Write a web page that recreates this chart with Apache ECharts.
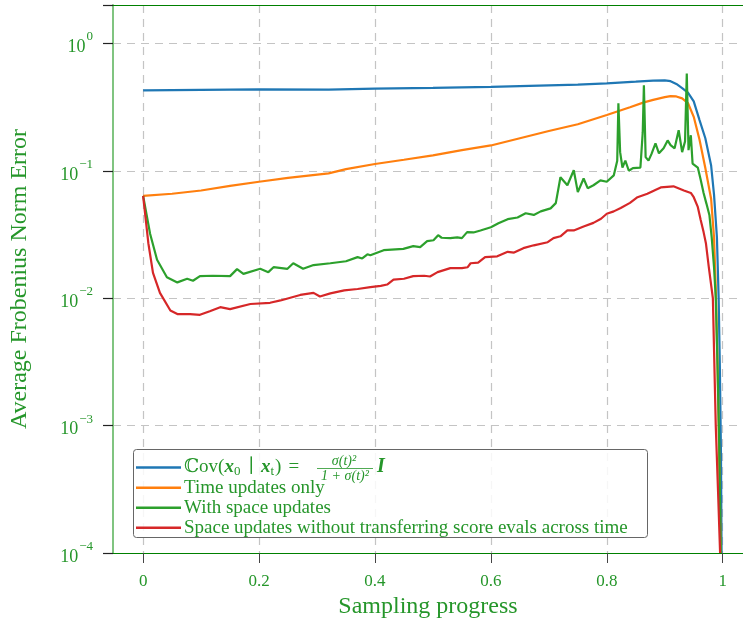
<!DOCTYPE html>
<html>
<head>
<meta charset="utf-8">
<script src="https://cdn.jsdelivr.net/npm/echarts@6/dist/echarts.min.js"></script>
<style>
  html, body { margin: 0; padding: 0; background: #fff; }
  #chart { width: 743px; height: 627px; }
</style>
</head>
<body>
<div id="chart"></div>
<script>
var FONT = "'Liberation Serif', 'DejaVu Serif', serif";
var TXT = '#25962a';

var seriesNames = [
  'cov',
  'Time updates only',
  'With space updates',
  'Space updates without transferring score evals across time'
];
var seriesColors = ['#1f77b4', '#ff7f0e', '#2ca02c', '#d62728'];
var xTicks = [0, 0.2, 0.4, 0.6, 0.8, 1];

// Cov(x0|xt) baseline
var blueX = [0, 0.1, 0.2, 0.32, 0.4, 0.5, 0.6, 0.7, 0.75, 0.8, 0.85, 0.88, 0.9, 0.91, 0.92, 0.93, 0.94, 0.95, 0.96, 0.97, 0.98, 0.985, 0.99, 0.993, 0.995, 0.997, 0.998];
var blueY = [0.428, 0.431, 0.435, 0.433, 0.441, 0.447, 0.455, 0.468, 0.475, 0.485, 0.5, 0.51, 0.513, 0.505, 0.48, 0.445, 0.41, 0.35, 0.25, 0.18, 0.11, 0.065, 0.03, 0.01, 0.003, 0.0006, 0.0001];

// time updates only
var orangeX = [0, 0.05, 0.1, 0.15, 0.2, 0.25, 0.32, 0.35, 0.4, 0.45, 0.5, 0.55, 0.6, 0.65, 0.7, 0.75, 0.8, 0.84, 0.864, 0.88, 0.9, 0.91, 0.92, 0.93, 0.94, 0.95, 0.96, 0.97, 0.98, 0.985, 0.988, 0.991, 0.993, 0.995, 0.9965];
var orangeY = [0.0635, 0.066, 0.07, 0.076, 0.082, 0.088, 0.0955, 0.103, 0.113, 0.122, 0.132, 0.145, 0.158, 0.18, 0.205, 0.232, 0.274, 0.315, 0.344, 0.36, 0.378, 0.385, 0.383, 0.37, 0.34, 0.265, 0.175, 0.105, 0.06, 0.03, 0.012, 0.003, 0.001, 0.0003, 0.0001];

// with space updates
var greenX = [0, 0.012, 0.024, 0.041, 0.059, 0.076, 0.086, 0.098, 0.12, 0.15, 0.162, 0.173, 0.202, 0.216, 0.225, 0.249, 0.259, 0.276, 0.294, 0.323, 0.35, 0.37, 0.378, 0.387, 0.392, 0.415, 0.449, 0.466, 0.478, 0.49, 0.501, 0.509, 0.515, 0.53, 0.542, 0.55, 0.559, 0.57, 0.582, 0.6, 0.613, 0.629, 0.646, 0.66, 0.674, 0.686, 0.703, 0.712, 0.72, 0.732, 0.743, 0.75, 0.76, 0.767, 0.777, 0.789, 0.8, 0.812, 0.818, 0.82, 0.823, 0.827, 0.832, 0.838, 0.845, 0.858, 0.862, 0.864, 0.867, 0.872, 0.877, 0.884, 0.89, 0.898, 0.905, 0.91, 0.917, 0.924, 0.93, 0.935, 0.938, 0.941, 0.945, 0.948, 0.951, 0.957, 0.962, 0.967, 0.972, 0.977, 0.981, 0.985, 0.988, 0.991, 0.994, 0.9965];
var greenY = [0.0635, 0.032, 0.02, 0.0146, 0.0133, 0.0142, 0.0137, 0.0149, 0.015, 0.0149, 0.0169, 0.0155, 0.017, 0.016, 0.0175, 0.017, 0.0188, 0.017, 0.0182, 0.0188, 0.0195, 0.021, 0.0205, 0.0221, 0.0217, 0.0238, 0.0244, 0.0256, 0.0252, 0.028, 0.0285, 0.0312, 0.0298, 0.0296, 0.03, 0.0296, 0.033, 0.0328, 0.034, 0.036, 0.0387, 0.0417, 0.043, 0.0464, 0.045, 0.048, 0.0507, 0.0557, 0.089, 0.077, 0.101, 0.068, 0.087, 0.073, 0.077, 0.084, 0.082, 0.092, 0.12, 0.339, 0.14, 0.106, 0.12, 0.1, 0.105, 0.106, 0.2, 0.469, 0.128, 0.12, 0.135, 0.164, 0.137, 0.15, 0.173, 0.159, 0.15, 0.208, 0.14, 0.17, 0.58, 0.145, 0.19, 0.114, 0.115, 0.106, 0.085, 0.067, 0.055, 0.045, 0.03, 0.0175, 0.01, 0.003, 0.0007, 0.0001];

// space updates without transferring score evals
var redX = [0, 0.009, 0.017, 0.029, 0.047, 0.059, 0.081, 0.098, 0.115, 0.133, 0.15, 0.185, 0.219, 0.237, 0.271, 0.294, 0.305, 0.323, 0.347, 0.37, 0.392, 0.41, 0.421, 0.432, 0.45, 0.466, 0.485, 0.495, 0.508, 0.53, 0.55, 0.56, 0.565, 0.578, 0.59, 0.611, 0.629, 0.64, 0.656, 0.674, 0.698, 0.708, 0.72, 0.732, 0.743, 0.76, 0.777, 0.79, 0.8, 0.812, 0.824, 0.84, 0.853, 0.87, 0.893, 0.915, 0.933, 0.945, 0.95, 0.957, 0.962, 0.967, 0.971, 0.976, 0.983, 0.988, 0.992, 0.9955];
var redY = [0.0635, 0.027, 0.0158, 0.011, 0.008, 0.0075, 0.0075, 0.0074, 0.0079, 0.0085, 0.0082, 0.009, 0.0092, 0.0096, 0.0106, 0.011, 0.0103, 0.0109, 0.0115, 0.0118, 0.0122, 0.0125, 0.0128, 0.014, 0.0142, 0.0149, 0.015, 0.0148, 0.016, 0.0172, 0.0172, 0.0175, 0.0188, 0.019, 0.021, 0.0213, 0.0231, 0.0228, 0.0247, 0.026, 0.0275, 0.0296, 0.0306, 0.034, 0.034, 0.0365, 0.039, 0.042, 0.046, 0.048, 0.051, 0.056, 0.062, 0.066, 0.074, 0.0755, 0.07, 0.067, 0.062, 0.052, 0.041, 0.033, 0.027, 0.0175, 0.01, 0.001, 0.0003, 0.0001];

function pairs(xs, ys) {
  return xs.map(function (x, i) { return [x, ys[i]]; });
}

var allX = [blueX, orangeX, greenX, redX];
var allY = [blueY, orangeY, greenY, redY];

var dom = document.getElementById('chart');
var myChart = echarts.init(dom, null, { renderer: 'canvas' });

var splitStyle = { color: '#c4c4c4', type: [8, 6], width: 1.2 };

var option = {
  animation: false,
  backgroundColor: '#fff',
  grid: { left: 113, right: 0, top: 5, bottom: 74 },
  xAxis: [
    {
      type: 'value',
      min: -0.052, max: 1.035,
      name: 'Sampling progress',
      nameLocation: 'middle',
      nameGap: 42,
      nameTextStyle: { fontFamily: FONT, fontSize: 24, color: TXT },
      axisLine: { onZero: false, lineStyle: { color: '#008000', width: 1.2 } },
      axisTick: { show: true, inside: false, length: 10, customValues: xTicks, lineStyle: { color: '#444' } },
      axisLabel: {
        customValues: xTicks,
        margin: 20,
        fontFamily: FONT, fontSize: 17, color: TXT,
        formatter: function (v) { return String(Math.round(v * 10) / 10); }
      },
      splitLine: { show: true, lineStyle: splitStyle }
    },
    {
      type: 'value',
      position: 'top',
      min: -0.052, max: 1.035,
      axisLine: { show: true, onZero: false, lineStyle: { color: '#008000', width: 1.2 } },
      axisTick: { show: false },
      axisLabel: { show: false },
      splitLine: { show: false }
    }
  ],
  yAxis: {
    type: 'log',
    logBase: 10,
    min: 0.0001, max: 2,
    name: 'Average Frobenius Norm Error',
    nameLocation: 'middle',
    nameGap: 81,
    nameTextStyle: { fontFamily: FONT, fontSize: 24, color: TXT },
    axisLine: { show: true, onZero: false, lineStyle: { color: '#80c480', width: 2 } },
    axisTick: { show: true, length: 10, lineStyle: { color: '#222', width: 1.2 } },
    axisLabel: {
      margin: 20,
      formatter: function (v) {
        var e = Math.log10(v);
        var r = Math.round(e);
        if (Math.abs(e - r) > 1e-6) return '';
        return '{b|10}{e|' + (r < 0 ? '\u2212' + (-r) : r) + '}';
      },
      rich: {
        b: { fontFamily: FONT, fontSize: 18, color: TXT, lineHeight: 26, verticalAlign: 'bottom' },
        e: { fontFamily: FONT, fontSize: 13, color: TXT, lineHeight: 13, verticalAlign: 'top', padding: [0, 0, 0, 1] }
      }
    },
    splitLine: { show: true, lineStyle: splitStyle }
  },
  legend: [
    {
      data: [seriesNames[0]],
      left: 136, top: 458,
      padding: 0,
      icon: 'rect', itemWidth: 45, itemHeight: 2.5, itemGap: 0,
      formatter: function () {
        return '{n|\u2102ov(}{b|x}{s|0}{p|\u2223}{b|x}{s|t}{n|)}{p|=}';
      },
      textStyle: {
        color: TXT, fontFamily: FONT, fontSize: 19, padding: [0, 0, 0, -2],
        rich: {
          n: { fontFamily: FONT, fontSize: 19, color: TXT, lineHeight: 22 },
          p: { fontFamily: FONT, fontSize: 19, color: TXT, lineHeight: 22, padding: [0, 7, 0, 7] },
          b: { fontFamily: FONT, fontSize: 19, color: TXT, fontWeight: 'bold', fontStyle: 'italic', lineHeight: 22 },
          s: { fontFamily: FONT, fontSize: 13, color: TXT, lineHeight: 22, verticalAlign: 'bottom', padding: [0, 1, 0, 0] }
        }
      }
    },
    {
      data: seriesNames.slice(1),
      left: 136, top: 478,
      orient: 'vertical',
      padding: 0,
      icon: 'rect', itemWidth: 45, itemHeight: 2.5, itemGap: 0.5,
      textStyle: { color: TXT, fontFamily: FONT, fontSize: 19, lineHeight: 19.5, padding: [0, 0, 0, -2] }
    }
  ],
  graphic: [
    {
      type: 'rect', z: 3,
      shape: { x: 133.5, y: 449.5, width: 514, height: 88, r: 3 },
      style: { fill: 'rgba(255,255,255,0.85)', stroke: '#666', lineWidth: 1 }
    },
    {
      type: 'text', z: 5, x: 344, y: 461,
      style: { text: '\u03c3(t)\u00b2', font: 'italic 14px ' + FONT, fill: TXT, textAlign: 'center', textVerticalAlign: 'middle' }
    },
    {
      type: 'line', z: 5,
      shape: { x1: 317, y1: 468.5, x2: 373, y2: 468.5 },
      style: { stroke: TXT, lineWidth: 0.8 }
    },
    {
      type: 'text', z: 5, x: 345, y: 476,
      style: { text: '1 + \u03c3(t)\u00b2', font: 'italic 14px ' + FONT, fill: TXT, textAlign: 'center', textVerticalAlign: 'middle' }
    },
    {
      type: 'text', z: 5, x: 377, y: 467,
      style: { text: 'I', font: 'italic bold 20px ' + FONT, fill: TXT, textAlign: 'left', textVerticalAlign: 'middle' }
    }
  ],
  series: seriesNames.map(function (name, i) {
    return {
      name: name,
      type: 'line',
      data: pairs(allX[i], allY[i]),
      showSymbol: false,
      symbol: 'none',
      clip: true,
      color: seriesColors[i],
      lineStyle: { color: seriesColors[i], width: 2.2 },
      z: 2 + i
    };
  })
};

myChart.setOption(option);
window.addEventListener('resize', myChart.resize);
</script>
</body>
</html>
